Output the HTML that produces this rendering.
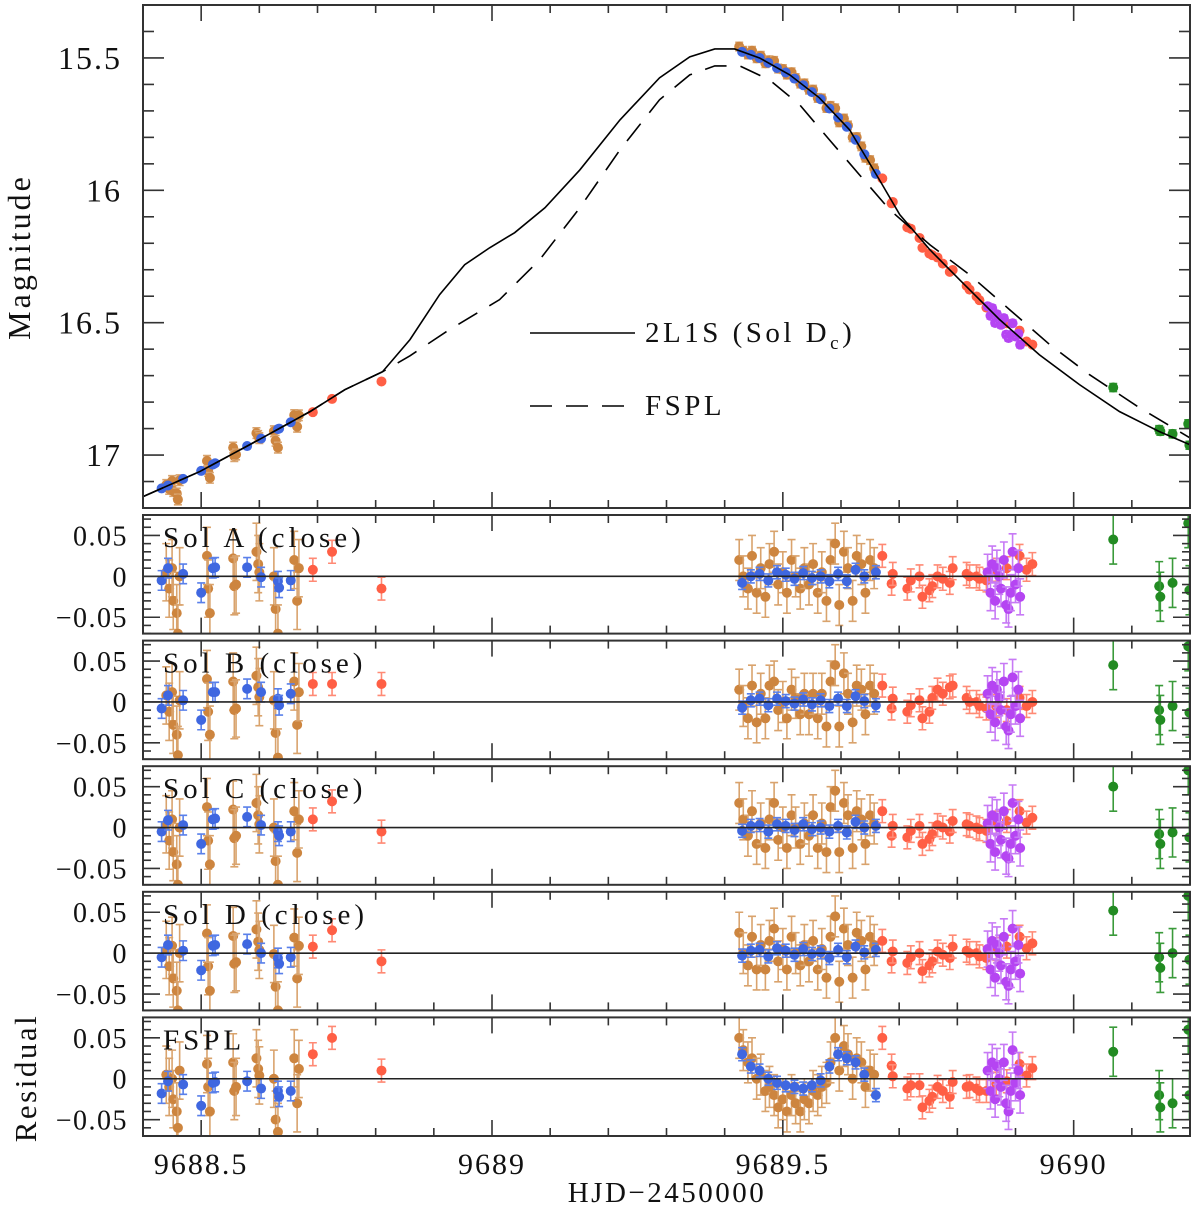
<!DOCTYPE html>
<html><head><meta charset="utf-8">
<style>
html,body{margin:0;padding:0;background:#fff;}
svg{display:block;}
text{font-family:"Liberation Serif","DejaVu Serif",serif;fill:#111;}
</style></head>
<body>
<svg id="chart" width="1200" height="1208" viewBox="0 0 1200 1208" xmlns="http://www.w3.org/2000/svg"></svg>
<script>
// ---------- model curves ----------
const solidT = [9688.4,9688.498,9688.601,9688.687,9688.747,9688.812,9688.859,9688.910,9688.953,9688.996,9689.039,9689.091,9689.151,9689.220,9689.288,9689.340,9689.383,9689.417,9689.460,9689.512,9689.563,9689.615,9689.666,9689.701,9689.753,9689.804,9689.873,9689.941,9690.010,9690.079,9690.147,9690.199];
const solidM = [17.157,17.062,16.94,16.836,16.753,16.685,16.564,16.394,16.281,16.217,16.16,16.066,15.923,15.734,15.575,15.496,15.466,15.466,15.50,15.564,15.651,15.772,15.96,16.092,16.225,16.338,16.489,16.621,16.734,16.836,16.911,16.96];
const dashT = [9688.4,9688.498,9688.601,9688.687,9688.747,9688.812,9688.859,9688.927,9689.013,9689.082,9689.151,9689.220,9689.288,9689.340,9689.383,9689.426,9689.477,9689.529,9689.580,9689.632,9689.684,9689.753,9689.821,9689.890,9689.959,9690.027,9690.113,9690.199];
const dashM = [17.157,17.062,16.94,16.836,16.753,16.685,16.625,16.526,16.413,16.262,16.066,15.847,15.658,15.564,15.53,15.53,15.583,15.677,15.809,15.942,16.074,16.206,16.319,16.451,16.583,16.696,16.821,16.934];

// ---------- orange early ----------
const orE_t = [9688.44,9688.445,9688.45,9688.452,9688.458,9688.46,9688.463,9688.51,9688.512,9688.515,9688.555,9688.557,9688.56,9688.595,9688.598,9688.60,9688.625,9688.628,9688.632,9688.66,9688.665,9688.668];
const orE_mag = [17.113,17.128,17.098,17.136,17.145,17.168,17.095,17.022,17.06,17.086,16.972,17.004,16.998,16.917,16.928,16.936,16.91,16.946,16.972,16.849,16.893,16.85];
const orE_rA = [0.005,-0.015,0.01,-0.03,-0.045,-0.07,0.0,0.025,-0.015,-0.045,0.022,-0.012,-0.01,0.03,0.015,0.005,0.0,-0.04,-0.07,0.02,-0.03,0.01];
const orE_rB = [0.008,-0.012,0.012,-0.028,-0.04,-0.065,0.002,0.028,-0.012,-0.04,0.025,-0.01,-0.008,0.032,0.018,0.006,0.002,-0.038,-0.068,0.025,-0.028,0.012];
const orE_rC = [0.004,-0.016,0.01,-0.03,-0.045,-0.07,0.0,0.025,-0.016,-0.045,0.022,-0.013,-0.01,0.03,0.015,0.004,0.0,-0.041,-0.07,0.02,-0.031,0.01];
const orE_rD = [0.004,-0.016,0.009,-0.031,-0.046,-0.07,0.0,0.024,-0.016,-0.046,0.021,-0.013,-0.011,0.029,0.014,0.004,-0.001,-0.041,-0.07,0.019,-0.031,0.009];
const orE_rF = [0.005,-0.01,0.0,-0.025,-0.04,-0.06,0.01,0.018,-0.01,-0.04,0.02,-0.015,-0.01,0.025,0.012,0.004,0.0,-0.05,-0.065,0.025,-0.03,0.012];

// ---------- orange peak ----------
const orP_t = [9689.425,9689.432,9689.44,9689.447,9689.455,9689.462,9689.47,9689.477,9689.485,9689.492,9689.50,9689.507,9689.515,9689.522,9689.53,9689.537,9689.545,9689.552,9689.56,9689.567,9689.575,9689.582,9689.59,9689.597,9689.605,9689.612,9689.62,9689.627,9689.635,9689.642,9689.65,9689.657];
const orP_mag = [15.457,15.473,15.487,15.473,15.501,15.492,15.52,15.509,15.511,15.54,15.542,15.563,15.554,15.576,15.597,15.596,15.62,15.62,15.651,15.653,15.689,15.681,15.69,15.743,15.729,15.755,15.8,15.799,15.834,15.877,15.886,15.917];
const orP_rA = [0.02,0.0,-0.015,0.025,-0.02,0.01,-0.025,0.015,0.03,-0.01,0.005,-0.02,0.02,0.0,-0.015,0.01,-0.01,0.015,-0.02,0.005,-0.03,0.02,0.04,-0.035,0.03,0.01,-0.03,0.025,0.015,-0.02,0.02,0.01];
const orP_rB = [0.015,-0.005,-0.02,0.02,-0.025,0.01,-0.02,0.02,0.025,-0.01,0.0,-0.02,0.015,0.005,-0.015,0.01,-0.015,0.01,-0.02,0.01,-0.03,0.025,0.045,-0.03,0.035,0.01,-0.025,0.02,0.015,-0.015,0.02,0.01];
const orP_rC = [0.03,0.01,-0.01,0.02,-0.02,0.005,-0.025,0.01,0.03,-0.015,0.0,-0.025,0.015,0.0,-0.02,0.005,-0.01,0.015,-0.025,0.005,-0.03,0.025,0.045,-0.03,0.03,0.015,-0.025,0.02,0.01,-0.02,0.015,0.005];
const orP_rD = [0.025,0.0,-0.015,0.02,-0.02,0.01,-0.02,0.015,0.03,-0.01,0.005,-0.02,0.02,0.0,-0.015,0.01,-0.01,0.015,-0.02,0.005,-0.03,0.02,0.045,-0.035,0.03,0.01,-0.03,0.025,0.015,-0.02,0.02,0.01];
const orP_rF = [0.05,0.035,0.02,0.025,0.0,0.005,-0.015,-0.01,-0.02,-0.035,-0.025,-0.04,-0.02,-0.03,-0.04,-0.025,-0.03,-0.015,-0.02,-0.01,-0.005,0.02,0.05,0.01,0.04,0.03,0.0,0.025,0.02,-0.01,0.01,0.005];

// ---------- blue early ----------
const blE_t = [9688.432,9688.443,9688.469,9688.500,9688.520,9688.524,9688.579,9688.603,9688.632,9688.634,9688.654];
const blE_mag = [17.126,17.115,17.09,17.06,17.036,17.031,16.966,16.938,16.902,16.9,16.876];
const blE_rA = [-0.005,0.010,0.003,-0.020,0.010,0.011,0.011,-0.001,-0.006,-0.014,-0.005];
const blE_rB = [-0.008,0.008,0.002,-0.022,0.012,0.012,0.016,0.012,0.004,-0.004,0.01];
const blE_rC = [-0.005,0.009,0.003,-0.02,0.01,0.011,0.013,0.003,-0.005,-0.01,-0.005];
const blE_rD = [-0.005,0.01,0.003,-0.021,0.009,0.01,0.011,0.0,-0.006,-0.013,-0.005];
const blE_rF = [-0.018,-0.003,-0.007,-0.033,-0.005,-0.004,-0.003,-0.012,-0.015,-0.022,-0.015];

// ---------- blue peak ----------
const blP_t = [9689.43,9689.445,9689.46,9689.475,9689.49,9689.505,9689.52,9689.535,9689.55,9689.565,9689.58,9689.595,9689.61,9689.625,9689.64,9689.66];
const blP_mag = [15.477,15.488,15.50,15.518,15.538,15.555,15.578,15.603,15.629,15.656,15.691,15.725,15.76,15.809,15.864,15.938];
const blP_rA = [-0.008,0.0,0.003,-0.005,0.005,0.002,-0.003,0.004,-0.002,0.0,-0.006,0.003,-0.006,0.008,0.0,0.005];
const blP_rB = [-0.007,0.002,0.004,-0.004,0.004,0.001,-0.002,0.003,-0.003,0.002,-0.005,0.004,-0.005,0.007,0.001,-0.004];
const blP_rC = [-0.004,0.002,0.003,-0.005,0.004,0.002,-0.003,0.004,-0.002,0.0,-0.005,0.002,-0.006,0.007,0.0,0.002];
const blP_rD = [-0.003,0.003,0.004,-0.004,0.006,0.003,-0.002,0.005,-0.001,0.001,-0.006,0.004,-0.005,0.008,0.001,0.004];
const blP_rF = [0.03,0.015,0.01,0.0,-0.005,-0.008,-0.01,-0.012,-0.008,-0.002,0.015,0.03,0.025,0.02,0.005,-0.02];

// ---------- red ----------
const rd_t = [9688.692,9688.725,9688.81,9689.671,9689.687,9689.689,9689.714,9689.72,9689.735,9689.74,9689.752,9689.757,9689.766,9689.775,9689.787,9689.792,9689.816,9689.821,9689.833,9689.838,9689.85,9689.867,9689.885,9689.907,9689.919,9689.929];
const rd_mag = [16.838,16.788,16.722,15.955,16.049,16.044,16.14,16.145,16.18,16.217,16.239,16.245,16.254,16.277,16.308,16.301,16.361,16.375,16.401,16.415,16.443,16.468,16.502,16.53,16.571,16.583];
const rd_rA = [0.008,0.03,-0.015,0.025,-0.009,0.003,-0.015,-0.005,0.0,-0.025,-0.017,-0.012,0.0,-0.003,-0.008,0.01,0.003,0.0,0.0,-0.003,-0.005,0.008,0.01,0.025,0.008,0.015];
const rd_rB = [0.022,0.022,0.022,0.02,-0.008,0.004,-0.012,-0.004,0.002,-0.02,-0.012,0.005,0.015,0.01,0.018,0.02,0.005,0.0,0.0,-0.005,-0.008,-0.005,-0.01,0.005,-0.005,0.0];
const rd_rC = [0.01,0.032,-0.005,0.02,-0.01,0.002,-0.012,-0.004,0.002,-0.02,-0.014,-0.008,0.003,0.0,-0.005,0.008,0.004,0.002,0.0,-0.002,-0.004,0.006,0.008,0.02,0.006,0.012];
const rd_rD = [0.008,0.028,-0.01,0.015,-0.01,0.002,-0.012,-0.005,0.0,-0.022,-0.015,-0.01,0.002,-0.002,-0.006,0.008,0.003,0.0,0.0,-0.004,-0.006,0.005,0.008,0.02,0.006,0.012];
const rd_rF = [0.03,0.05,0.01,0.05,0.016,0.003,-0.012,-0.008,-0.008,-0.035,-0.027,-0.022,-0.01,-0.015,-0.022,-0.004,-0.01,-0.009,-0.012,-0.015,-0.015,-0.006,-0.003,0.018,0.004,0.013];

// ---------- purple ----------
const pu_t = [9689.852,9689.857,9689.86,9689.865,9689.868,9689.872,9689.875,9689.88,9689.884,9689.888,9689.892,9689.895,9689.9,9689.905,9689.908];
const pu_mag = [16.438,16.474,16.445,16.501,16.468,16.487,16.508,16.483,16.545,16.558,16.546,16.502,16.552,16.542,16.583];
const pu_rA = [0.005,-0.02,0.015,-0.03,0.01,0.0,-0.015,0.02,-0.035,-0.04,-0.02,0.03,-0.01,0.01,-0.025];
const pu_rB = [0.01,-0.015,0.02,-0.025,0.015,0.005,-0.01,0.025,-0.03,-0.035,-0.015,0.03,-0.005,0.015,-0.02];
const pu_rC = [0.005,-0.02,0.015,-0.03,0.012,0.0,-0.015,0.02,-0.035,-0.038,-0.02,0.03,-0.01,0.01,-0.025];
const pu_rD = [0.005,-0.02,0.015,-0.03,0.01,0.0,-0.015,0.02,-0.035,-0.04,-0.02,0.03,-0.01,0.01,-0.025];
const pu_rF = [0.01,-0.015,0.02,-0.025,0.015,0.0,-0.01,0.02,-0.03,-0.04,-0.015,0.035,-0.005,0.01,-0.02];

// ---------- green ----------
const gr_t = [9690.068,9690.147,9690.149,9690.17,9690.197,9690.199];
const gr_mag = [16.745,16.904,16.91,16.92,16.882,16.963];
const gr_rA = [0.045,-0.012,-0.025,-0.008,0.065,-0.017];
const gr_rB = [0.045,-0.01,-0.022,-0.005,0.068,-0.013];
const gr_rC = [0.05,-0.008,-0.02,-0.006,0.07,-0.012];
const gr_rD = [0.052,-0.005,-0.018,0.0,0.07,-0.008];
const gr_rF = [0.033,-0.02,-0.035,-0.03,0.06,-0.02];

// ---------- ticks / labels ----------
const xTickLabels = ["9688.5","9689","9689.5","9690"];
const xTickVals = [9688.5,9689,9689.5,9690];
const magTickLabels = ["15.5","16","16.5","17"];
const magTickVals = [15.5,16,16.5,17];
const resTickLabels = ["0.05","0","\u22120.05"];
const resTickVals = [0.05,0,-0.05];
const panelLabels = ["Sol A (close)","Sol B (close)","Sol C (close)","Sol D (close)","FSPL"];

// ---------- geometry ----------
const L=143, R=1190, T0=5, B0=508;
const X0=9688.4, X1=9690.2, M0=15.3, M1=17.2;
const RES_TOP=0.075, RES_BOT=-0.07;
const panelTops=[515,640.6,766.2,891.8,1017.4], PH=118.6;
const xs = t => L + (t-X0)/(X1-X0)*(R-L);
const ym = m => T0 + (m-M0)/(M1-M0)*(B0-T0);
const yr = (k,r) => panelTops[k] + (RES_TOP-r)/(RES_TOP-RES_BOT)*PH;

const NS="http://www.w3.org/2000/svg";
const svg=document.getElementById('chart');
function mk(tag,attrs,parent){const e=document.createElementNS(NS,tag);for(const k in attrs)e.setAttribute(k,attrs[k]);(parent||svg).appendChild(e);return e;}

const defs=mk('defs',{});
const cp0=mk('clipPath',{id:'clip-main'},defs);
mk('rect',{x:L,y:T0,width:R-L,height:B0-T0},cp0);
panelTops.forEach((tp,k)=>{const c=mk('clipPath',{id:'clip-r'+k},defs);mk('rect',{x:L,y:tp,width:R-L,height:PH},c);});

const COL={or:'#cd853f',bl:'#3f67e0',rd:'#ff5f45',pu:'#b545f2',gr:'#228b22'};
const ECOL={or:'#d9a36d',bl:'#5a80ea',rd:'#ff8a75',pu:'#c77af5',gr:'#3a9a3a'};

function drawPoint(g,cx,cy,ey,key,name){
  const eb=mk('path',{d:`M${cx},${cy-ey}V${cy+ey}M${cx-4},${cy-ey}H${cx+4}M${cx-4},${cy+ey}H${cx+4}`,stroke:ECOL[key],'stroke-width':1.6,fill:'none'},g);
  
  
  const c=mk('circle',{cx:cx,cy:cy,r:5,fill:COL[key]},g);
  
  
}

const sets=[
 {key:'or',t:orE_t,m:orE_mag,r:[orE_rA,orE_rB,orE_rC,orE_rD,orE_rF],em:0.02,er:0.035,n:'orange-early-point'},
 {key:'or',t:orP_t,m:orP_mag,r:[orP_rA,orP_rB,orP_rC,orP_rD,orP_rF],em:0.016,er:0.025,n:'orange-peak-point'},
 {key:'bl',t:blE_t,m:blE_mag,r:[blE_rA,blE_rB,blE_rC,blE_rD,blE_rF],em:0.006,er:0.012,n:'blue-early-point'},
 {key:'bl',t:blP_t,m:blP_mag,r:[blP_rA,blP_rB,blP_rC,blP_rD,blP_rF],em:0.004,er:0.008,n:'blue-peak-point'},
 {key:'rd',t:rd_t,m:rd_mag,r:[rd_rA,rd_rB,rd_rC,rd_rD,rd_rF],em:0.008,er:0.014,n:'red-point'},
 {key:'pu',t:pu_t,m:pu_mag,r:[pu_rA,pu_rB,pu_rC,pu_rD,pu_rF],em:0.012,er:0.022,n:'purple-point'},
 {key:'gr',t:gr_t,m:gr_mag,r:[gr_rA,gr_rB,gr_rC,gr_rD,gr_rF],em:0.015,er:0.03,n:'green-point'}
];

function drawFrame(x,y,w,h,name){
  const r=mk('rect',{x:x,y:y,width:w,height:h,fill:'none',stroke:'#333','stroke-width':2});
  
  
}
function xTicks(yt,yb,withLabels){
  const g=mk('g',{stroke:'#333','stroke-width':1.6});
  
  
  for(let i=0;i<=18;i++){
    const t=X0+i*0.1; const x=xs(t);
    const major=Math.abs((t*2)-Math.round(t*2))<1e-6;
    const len=major?16:8;
    mk('line',{x1:x,y1:yb,x2:x,y2:yb-len},g);
    mk('line',{x1:x,y1:yt,x2:x,y2:yt+len},g);
  }
  if(withLabels){
    xTickVals.forEach((v,i)=>{
      const tx=mk('text',{x:xs(v),y:yb+38,'text-anchor':'middle','font-size':30,'letter-spacing':2});
      tx.textContent=xTickLabels[i];
      
      
    });
  }
}

// ---------- main panel ----------
const gMain=mk('g',{'clip-path':'url(#clip-main)'});


sets.forEach(s=>{
  s.t.forEach((t,i)=>{
    const cy=ym(s.m[i]); const ey=s.em*(B0-T0)/(M1-M0);
    drawPoint(gMain,xs(t),cy,ey,s.key,s.n);
  });
});
const solid=mk('polyline',{points:solidT.map((t,i)=>xs(t)+','+ym(solidM[i])).join(' '),fill:'none',stroke:'#000','stroke-width':1.6},gMain);


const dash=mk('polyline',{points:dashT.map((t,i)=>xs(t)+','+ym(dashM[i])).join(' '),fill:'none',stroke:'#000','stroke-width':1.6,'stroke-dasharray':'22,14'},gMain);



drawFrame(L,T0,R-L,B0-T0,'main-panel-frame');
xTicks(T0,B0,false);
(function(){
  const g=mk('g',{stroke:'#333','stroke-width':1.6});
  
  
  for(let i=0;i<=19;i++){
    const m=M0+i*0.1; const y=ym(m);
    if(y<T0+1||y>B0-1) continue;
    const major=Math.abs(m*2-Math.round(m*2))<1e-6;
    const len=major?21:11;
    mk('line',{x1:L,y1:y,x2:L+len,y2:y},g);
    mk('line',{x1:R,y1:y,x2:R-len,y2:y},g);
  }
  magTickVals.forEach((v,i)=>{
    const tx=mk('text',{x:122,y:ym(v)+11,'text-anchor':'end','font-size':32,'letter-spacing':2});
    tx.textContent=magTickLabels[i];
    
    
  });
})();
const yTitle=mk('text',{x:0,y:0,transform:'translate(30,257) rotate(-90)','text-anchor':'middle','font-size':32,'letter-spacing':3});
yTitle.textContent='Magnitude';



// legend
const leg=mk('g',{});


const l1=mk('line',{x1:530,y1:333,x2:635,y2:333,stroke:'#000','stroke-width':1.6},leg);


const t1=mk('text',{x:645,y:342,'font-size':29,'letter-spacing':3.5},leg);
t1.innerHTML='2L1S (Sol D<tspan font-size="19" dy="7">c</tspan><tspan dy="-7">)</tspan>';


const l2=mk('line',{x1:530,y1:406,x2:635,y2:406,stroke:'#000','stroke-width':1.6,'stroke-dasharray':'22,14'},leg);


const t2=mk('text',{x:645,y:415,'font-size':29,'letter-spacing':3.5},leg);
t2.textContent='FSPL';



// ---------- residual panels ----------
panelTops.forEach((tp,k)=>{
  const g=mk('g',{'clip-path':'url(#clip-r'+k+')'});
  
  
  sets.forEach(s=>{
    const arr=s.r[k];
    s.t.forEach((t,i)=>{
      const ey=s.er*PH/(RES_TOP-RES_BOT);
      drawPoint(g,xs(t),yr(k,arr[i]),ey,s.key,s.n+'-residual');
    });
  });
  const z=mk('line',{x1:L,y1:yr(k,0),x2:R,y2:yr(k,0),stroke:'#222','stroke-width':1.6});
  
  
  drawFrame(L,tp,R-L,PH,'residual-panel-'+(k+1)+'-frame');
  xTicks(tp,tp+PH,k===4);
  const gt=mk('g',{stroke:'#333','stroke-width':1.6});
  
  
  for(let i=-7;i<=7;i++){
    const r=i*0.01; const y=yr(k,r);
    const major=(i%5===0);
    const len=major?17:8;
    mk('line',{x1:L,y1:y,x2:L+len,y2:y},gt);
    mk('line',{x1:R,y1:y,x2:R-len,y2:y},gt);
  }
  resTickVals.forEach((v,i)=>{
    const tx=mk('text',{x:128,y:yr(k,v)+10,'text-anchor':'end','font-size':28,'letter-spacing':1.5});
    tx.textContent=resTickLabels[i];
    
    
  });
  const pl=mk('text',{x:163,y:tp+32,'font-size':29,'letter-spacing':4});
  pl.textContent=panelLabels[k];
  
  
});
const rTitle=mk('text',{x:0,y:0,transform:'translate(36,1078) rotate(-90)','text-anchor':'middle','font-size':31,'letter-spacing':2.5});
rTitle.textContent='Residual';


const xTitle=mk('text',{x:667,y:1202,'text-anchor':'middle','font-size':29,'letter-spacing':2.5});
xTitle.textContent='HJD\u22122450000';


</script>
</body></html>
